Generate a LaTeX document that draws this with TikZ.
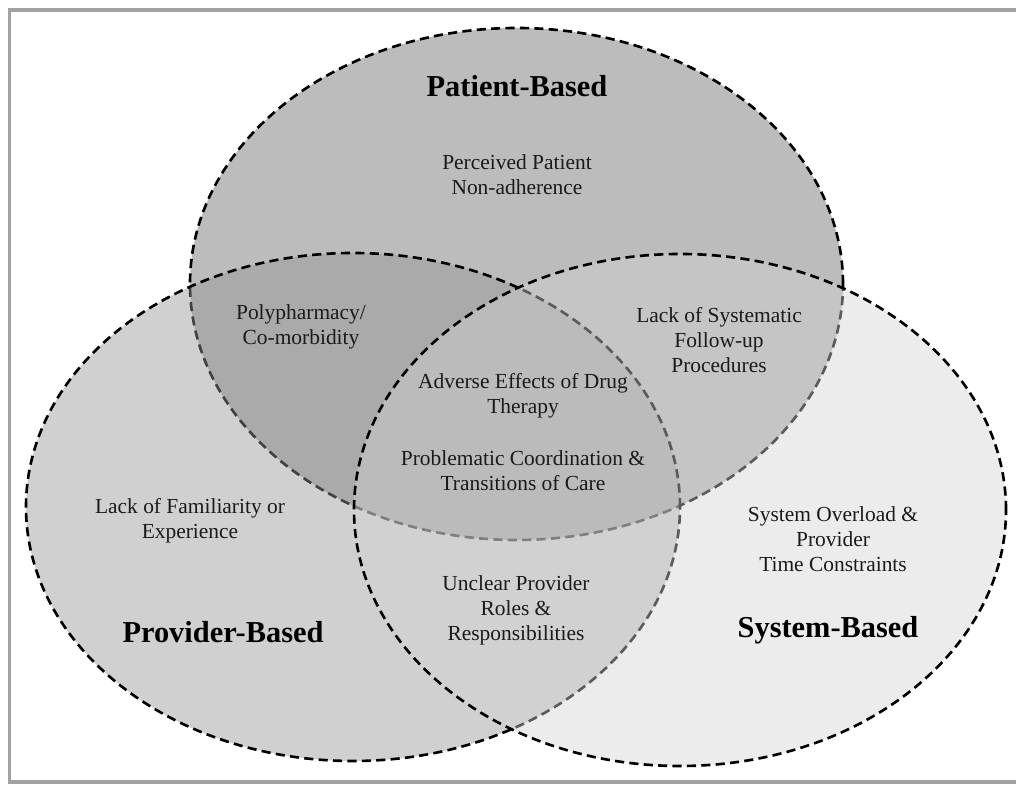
\documentclass[tikz,border=0pt]{standalone}
\usepackage{fontspec}
\setmainfont{Liberation Serif}
\usepackage{xcolor}
\usepackage{tikz}
\definecolor{frameline}{HTML}{A2A2A6}
\definecolor{patfill}{HTML}{BCBCBC}
\definecolor{provfill}{HTML}{959595}
\definecolor{sysfill}{HTML}{D3D3D3}
\definecolor{ink}{HTML}{1A1A1A}
\tikzset{
  vset/.style={draw=black,line width=1.5pt,dash pattern=on 5.2pt off 3pt},
  vpatient/.style={vset,fill=patfill},
  vprovider/.style={vset,fill=provfill,fill opacity=0.44},
  vsystem/.style={vset,fill=sysfill,fill opacity=0.43},
  vitem/.style={align=center,text=ink,inner sep=1pt,font=\fontsize{12.2}{14.2}\selectfont},
  vhead/.style={align=center,text=black,inner sep=1pt,font=\fontsize{17.3}{20}\selectfont\bfseries},
  vframe/.style={line width=2.2pt,draw=frameline}
}

\begin{document}
\begin{tikzpicture}
  \useasboundingbox (0,0) rectangle (20.32,15.70);
  \draw[vframe] (20.32,15.50) -- (0.19,15.50) -- (0.19,0.06) -- (20.32,0.06);
  % the three sets, back to front
  \draw[vpatient]  (10.33,10.02) ellipse [x radius=6.53, y radius=5.12];
  \draw[vprovider] (7.06,5.56)   ellipse [x radius=6.54, y radius=5.08];
  \draw[vsystem]   (13.60,5.50)  ellipse [x radius=6.52, y radius=5.12];
  \node[vhead] (pathead) at (10.34,13.98) {Patient-Based};
  \node[vhead] (provhead) at (4.46,3.06) {Provider-Based};
  \node[vhead] (syshead) at (16.56,3.10) {System-Based};
  \node[vitem] (nonadh) at (10.34,12.20) {Perceived Patient\\Non-adherence};
  \node[vitem] (poly) at (6.02,9.16) {Polypharmacy/\\Co-morbidity};
  \node[vitem] (followup) at (14.38,8.90) {Lack of Systematic\\Follow-up\\Procedures};
  \node[vitem] (adverse) at (10.46,7.78) {Adverse Effects of Drug\\Therapy};
  \node[vitem] (coord) at (10.46,6.28) {Problematic Coordination \&\\Transitions of Care};
  \node[vitem] (familiar) at (3.80,5.28) {Lack of Familiarity or\\Experience};
  \node[vitem] (roles) at (10.32,3.50) {Unclear Provider\\Roles \&\\Responsibilities};
  \node[vitem] (overload) at (16.66,4.92) {System Overload \&\\Provider\\Time Constraints};
\end{tikzpicture}
\end{document}
